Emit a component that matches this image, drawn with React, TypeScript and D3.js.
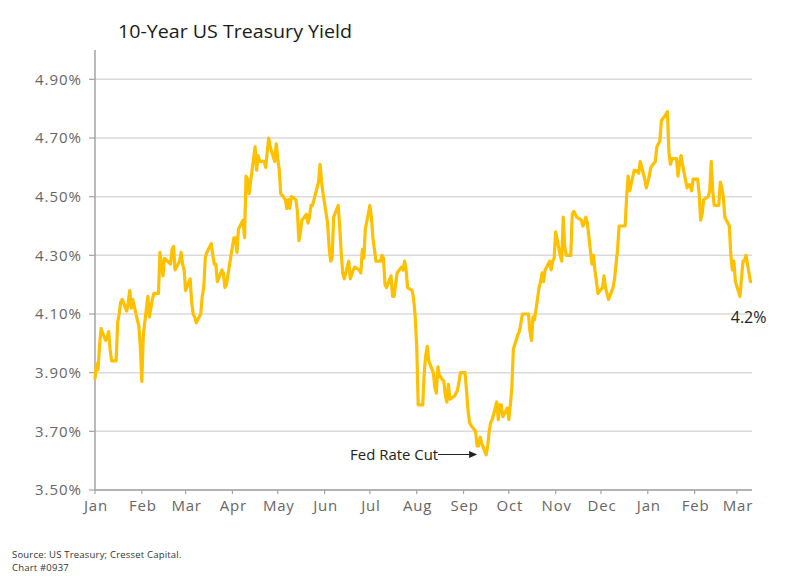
import React from "react";
import * as d3 from "d3";

// ---- Data (10-Year US Treasury yield, %) ----
const yields2024H1: [string, number][] = [
  ["2024-01-01", 3.88], ["2024-01-02", 3.93], ["2024-01-03", 3.91], ["2024-01-04", 3.99], ["2024-01-05", 4.05],
  ["2024-01-08", 4.01], ["2024-01-09", 4.02], ["2024-01-10", 4.04], ["2024-01-11", 3.98], ["2024-01-12", 3.94],
  ["2024-01-15", 3.94], ["2024-01-16", 4.07], ["2024-01-17", 4.10], ["2024-01-18", 4.14], ["2024-01-19", 4.15],
  ["2024-01-22", 4.11], ["2024-01-23", 4.14], ["2024-01-24", 4.18], ["2024-01-25", 4.12], ["2024-01-26", 4.15],
  ["2024-01-29", 4.08], ["2024-01-30", 4.06], ["2024-01-31", 3.99],
  ["2024-02-01", 3.87], ["2024-02-02", 4.03], ["2024-02-05", 4.16], ["2024-02-06", 4.09], ["2024-02-07", 4.12],
  ["2024-02-08", 4.15], ["2024-02-09", 4.17], ["2024-02-12", 4.17], ["2024-02-13", 4.31], ["2024-02-14", 4.27],
  ["2024-02-15", 4.23], ["2024-02-16", 4.29], ["2024-02-20", 4.27], ["2024-02-21", 4.32], ["2024-02-22", 4.33],
  ["2024-02-23", 4.25], ["2024-02-26", 4.28], ["2024-02-27", 4.31], ["2024-02-28", 4.27], ["2024-02-29", 4.25],
  ["2024-03-01", 4.18], ["2024-03-04", 4.22], ["2024-03-05", 4.14], ["2024-03-06", 4.10], ["2024-03-07", 4.09],
  ["2024-03-08", 4.07], ["2024-03-11", 4.10], ["2024-03-12", 4.16], ["2024-03-13", 4.19], ["2024-03-14", 4.29],
  ["2024-03-15", 4.31], ["2024-03-18", 4.34], ["2024-03-19", 4.30], ["2024-03-20", 4.27], ["2024-03-21", 4.27],
  ["2024-03-22", 4.21], ["2024-03-25", 4.25], ["2024-03-26", 4.24], ["2024-03-27", 4.19], ["2024-03-28", 4.20],
  ["2024-04-01", 4.33], ["2024-04-02", 4.36], ["2024-04-03", 4.36], ["2024-04-04", 4.31], ["2024-04-05", 4.39],
  ["2024-04-08", 4.42], ["2024-04-09", 4.36], ["2024-04-10", 4.57], ["2024-04-11", 4.56], ["2024-04-12", 4.51],
  ["2024-04-15", 4.63], ["2024-04-16", 4.67], ["2024-04-17", 4.59], ["2024-04-18", 4.64], ["2024-04-19", 4.62],
  ["2024-04-22", 4.62], ["2024-04-23", 4.60], ["2024-04-24", 4.65], ["2024-04-25", 4.70], ["2024-04-26", 4.67],
  ["2024-04-29", 4.62], ["2024-04-30", 4.68],
  ["2024-05-01", 4.63], ["2024-05-02", 4.59], ["2024-05-03", 4.51], ["2024-05-06", 4.49], ["2024-05-07", 4.46],
  ["2024-05-08", 4.49], ["2024-05-09", 4.46], ["2024-05-10", 4.50], ["2024-05-13", 4.49], ["2024-05-14", 4.45],
  ["2024-05-15", 4.35], ["2024-05-16", 4.38], ["2024-05-17", 4.42], ["2024-05-20", 4.44], ["2024-05-21", 4.41],
  ["2024-05-22", 4.43], ["2024-05-23", 4.47], ["2024-05-24", 4.47], ["2024-05-28", 4.55], ["2024-05-29", 4.61],
  ["2024-05-30", 4.55], ["2024-05-31", 4.51],
  ["2024-06-03", 4.41], ["2024-06-04", 4.33], ["2024-06-05", 4.28], ["2024-06-06", 4.29], ["2024-06-07", 4.43],
  ["2024-06-10", 4.47], ["2024-06-11", 4.40], ["2024-06-12", 4.31], ["2024-06-13", 4.24], ["2024-06-14", 4.22],
  ["2024-06-17", 4.28], ["2024-06-18", 4.22], ["2024-06-20", 4.25], ["2024-06-21", 4.26], ["2024-06-24", 4.25],
  ["2024-06-25", 4.24], ["2024-06-26", 4.32], ["2024-06-27", 4.29], ["2024-06-28", 4.39],
];

const yields2024H2: [string, number][] = [
  ["2024-07-01", 4.47], ["2024-07-02", 4.43], ["2024-07-03", 4.36], ["2024-07-05", 4.28], ["2024-07-08", 4.28],
  ["2024-07-09", 4.30], ["2024-07-10", 4.29], ["2024-07-11", 4.20], ["2024-07-12", 4.19], ["2024-07-15", 4.23],
  ["2024-07-16", 4.16], ["2024-07-17", 4.16], ["2024-07-18", 4.20], ["2024-07-19", 4.24], ["2024-07-22", 4.26],
  ["2024-07-23", 4.25], ["2024-07-24", 4.28], ["2024-07-25", 4.25], ["2024-07-26", 4.19], ["2024-07-29", 4.18],
  ["2024-07-30", 4.15], ["2024-07-31", 4.09],
  ["2024-08-01", 3.99], ["2024-08-02", 3.79], ["2024-08-05", 3.79], ["2024-08-06", 3.90], ["2024-08-07", 3.96],
  ["2024-08-08", 3.99], ["2024-08-09", 3.94], ["2024-08-12", 3.90], ["2024-08-13", 3.85], ["2024-08-14", 3.83],
  ["2024-08-15", 3.92], ["2024-08-16", 3.89], ["2024-08-19", 3.87], ["2024-08-20", 3.82], ["2024-08-21", 3.80],
  ["2024-08-22", 3.86], ["2024-08-23", 3.81], ["2024-08-26", 3.82], ["2024-08-27", 3.83], ["2024-08-28", 3.84],
  ["2024-08-29", 3.87], ["2024-08-30", 3.90], ["2024-09-02", 3.90],
  ["2024-09-03", 3.84], ["2024-09-04", 3.77], ["2024-09-05", 3.73], ["2024-09-06", 3.72], ["2024-09-09", 3.70],
  ["2024-09-10", 3.65], ["2024-09-11", 3.65], ["2024-09-12", 3.68], ["2024-09-13", 3.66], ["2024-09-16", 3.62],
  ["2024-09-17", 3.65], ["2024-09-18", 3.70], ["2024-09-19", 3.73], ["2024-09-20", 3.74], ["2024-09-23", 3.80],
  ["2024-09-24", 3.74], ["2024-09-25", 3.79], ["2024-09-26", 3.79], ["2024-09-27", 3.75], ["2024-09-30", 3.78],
  ["2024-10-01", 3.74], ["2024-10-02", 3.79], ["2024-10-03", 3.85], ["2024-10-04", 3.98], ["2024-10-07", 4.03],
  ["2024-10-08", 4.04], ["2024-10-09", 4.07], ["2024-10-10", 4.10], ["2024-10-11", 4.10], ["2024-10-14", 4.10],
  ["2024-10-15", 4.04], ["2024-10-16", 4.01], ["2024-10-17", 4.09], ["2024-10-18", 4.08], ["2024-10-21", 4.19],
  ["2024-10-22", 4.21], ["2024-10-23", 4.24], ["2024-10-24", 4.21], ["2024-10-25", 4.25], ["2024-10-28", 4.28],
  ["2024-10-29", 4.25], ["2024-10-30", 4.28], ["2024-10-31", 4.29],
  ["2024-11-01", 4.38], ["2024-11-04", 4.30], ["2024-11-05", 4.28], ["2024-11-06", 4.43], ["2024-11-07", 4.33],
  ["2024-11-08", 4.30], ["2024-11-11", 4.30], ["2024-11-12", 4.44], ["2024-11-13", 4.45], ["2024-11-14", 4.44],
  ["2024-11-15", 4.43], ["2024-11-18", 4.42], ["2024-11-19", 4.40], ["2024-11-20", 4.41], ["2024-11-21", 4.43],
  ["2024-11-22", 4.41], ["2024-11-25", 4.27], ["2024-11-26", 4.30], ["2024-11-27", 4.25], ["2024-11-29", 4.17],
  ["2024-12-02", 4.19], ["2024-12-03", 4.23], ["2024-12-04", 4.19], ["2024-12-05", 4.17], ["2024-12-06", 4.15],
  ["2024-12-09", 4.19], ["2024-12-10", 4.22], ["2024-12-11", 4.27], ["2024-12-12", 4.32], ["2024-12-13", 4.40],
  ["2024-12-16", 4.40], ["2024-12-17", 4.40], ["2024-12-18", 4.50], ["2024-12-19", 4.57], ["2024-12-20", 4.52],
  ["2024-12-23", 4.59], ["2024-12-24", 4.59], ["2024-12-26", 4.58], ["2024-12-27", 4.62], ["2024-12-30", 4.56],
  ["2024-12-31", 4.53],
];

const yields2025: [string, number][] = [
  ["2025-01-02", 4.57], ["2025-01-03", 4.60], ["2025-01-06", 4.62], ["2025-01-07", 4.67], ["2025-01-08", 4.68],
  ["2025-01-09", 4.69], ["2025-01-10", 4.76], ["2025-01-13", 4.78], ["2025-01-14", 4.79], ["2025-01-15", 4.65],
  ["2025-01-16", 4.61], ["2025-01-17", 4.63], ["2025-01-20", 4.63], ["2025-01-21", 4.57], ["2025-01-22", 4.61],
  ["2025-01-23", 4.64], ["2025-01-24", 4.61], ["2025-01-27", 4.53], ["2025-01-28", 4.54], ["2025-01-29", 4.54],
  ["2025-01-30", 4.52], ["2025-01-31", 4.56],
  ["2025-02-03", 4.56], ["2025-02-04", 4.51], ["2025-02-05", 4.42], ["2025-02-06", 4.44], ["2025-02-07", 4.49],
  ["2025-02-10", 4.50], ["2025-02-11", 4.52], ["2025-02-12", 4.62], ["2025-02-13", 4.52], ["2025-02-14", 4.47],
  ["2025-02-17", 4.47], ["2025-02-18", 4.55], ["2025-02-19", 4.53], ["2025-02-20", 4.50], ["2025-02-21", 4.43],
  ["2025-02-24", 4.40], ["2025-02-25", 4.30], ["2025-02-26", 4.25], ["2025-02-27", 4.28], ["2025-02-28", 4.21],
  ["2025-03-03", 4.16], ["2025-03-04", 4.22], ["2025-03-05", 4.28], ["2025-03-06", 4.28], ["2025-03-07", 4.30],
  ["2025-03-10", 4.21],
];

const yTickValues: number[] = [3.5, 3.7, 3.9, 4.1, 4.3, 4.5, 4.7, 4.9];
const monthTickLabels: string[] = [
  "Jan", "Feb", "Mar", "Apr", "May", "Jun", "Jul", "Aug", "Sep", "Oct", "Nov", "Dec", "Jan", "Feb", "Mar",
];
const xDomain: string[] = ["2024-01-01", "2025-03-11"];
const yDomain: number[] = [3.5, 5.0];

const titleText = "10-Year US Treasury Yield";
const sourceLines: string[] = ["Source: US Treasury; Cresset Capital.", "Chart #0937"];
const fedCut = { label: "Fed Rate Cut", date: "2024-09-10", value: 3.621 };
const lastLabel = "4.2%";

const FONT = "'Open Sans', 'DejaVu Sans', sans-serif";

export default function App() {
  const W = 804;
  const H = 584;
  const margin = { left: 95, right: 52, top: 50, bottom: 94 };
  const parse = d3.timeParse("%Y-%m-%d");

  const series = [...yields2024H1, ...yields2024H2, ...yields2025].map(([d, v]) => ({
    date: parse(d) as Date,
    value: v,
  }));

  const x = d3
    .scaleTime()
    .domain([parse(xDomain[0]) as Date, parse(xDomain[1]) as Date])
    .range([margin.left, W - margin.right]);
  const y = d3
    .scaleLinear()
    .domain(yDomain)
    .range([H - margin.bottom, margin.top]);

  const line = d3
    .line<{ date: Date; value: number }>()
    .x((d) => x(d.date))
    .y((d) => y(d.value))
    .curve(d3.curveLinear);

  const monthTicks = d3.timeMonth.range(parse(xDomain[0]) as Date, parse(xDomain[1]) as Date);
  const x0 = margin.left;
  const x1 = W - margin.right;
  const yBottom = y(yDomain[0]);

  const last = series[series.length - 1];
  const lastX = x(last.date);
  const lastY = y(last.value);

  const cutX = x(parse(fedCut.date) as Date);
  const cutY = y(fedCut.value);

  return (
    <svg
      width={W}
      height={H}
      style={{ position: "absolute", left: 0, top: 0, background: "#fff" }}
      fontFamily={FONT}
    >
      <text x={118} y={38} fontSize={18} fill="#1a1a1a" textLength={234} lengthAdjust="spacingAndGlyphs">
        {titleText}
      </text>

      {/* gridlines */}
      {yTickValues.map((t) => (
        <line key={"g" + t} x1={x0} x2={x1} y1={y(t)} y2={y(t)} stroke="#dadada" strokeWidth={1.5} />
      ))}

      {/* y axis */}
      <line x1={x0} x2={x0} y1={margin.top} y2={yBottom} stroke="#a3a3a3" strokeWidth={1.5} />
      {yTickValues.map((t) => (
        <g key={"yt" + t}>
          <line x1={x0 - 6} x2={x0} y1={y(t)} y2={y(t)} stroke="#a3a3a3" strokeWidth={1.2} />
          <text
            x={82}
            y={y(t)}
            dy="0.36em"
            textAnchor="end"
            fontSize={15}
            fill="#666"
            letterSpacing={1}
          >
            {t.toFixed(2) + "%"}
          </text>
        </g>
      ))}

      {/* x axis */}
      <line x1={x0} x2={x1} y1={yBottom} y2={yBottom} stroke="#a3a3a3" strokeWidth={1.5} />
      {monthTicks.map((d, i) => (
        <g key={"xt" + i}>
          <line x1={x(d)} x2={x(d)} y1={yBottom} y2={yBottom + 4} stroke="#a3a3a3" strokeWidth={1.2} />
          <text x={x(d) + 1} y={511} textAnchor="middle" fontSize={15} fill="#666" letterSpacing={0.8}>
            {monthTickLabels[i]}
          </text>
        </g>
      ))}

      {/* series line */}
      <path
        d={line(series) || ""}
        fill="none"
        stroke="#FFC000"
        strokeWidth={3.2}
        strokeLinejoin="round"
        strokeLinecap="round"
      />

      {/* Fed Rate Cut annotation */}
      <text
        x={cutX - 39}
        y={cutY + 5}
        textAnchor="end"
        fontSize={14}
        fill="#222"
        textLength={88}
        lengthAdjust="spacingAndGlyphs"
      >
        {fedCut.label}
      </text>
      <line x1={cutX - 39} x2={cutX - 6} y1={cutY} y2={cutY} stroke="#222" strokeWidth={1} />
      <path d={`M${cutX},${cutY} L${cutX - 8},${cutY - 3.5} L${cutX - 8},${cutY + 3.5} Z`} fill="#222" />

      {/* last value label */}
      <text x={lastX + 16} y={lastY + 41} textAnchor="end" fontSize={16} fill="#222">
        {lastLabel}
      </text>

      {/* source */}
      {sourceLines.map((s, i) => (
        <text key={"s" + i} x={12} y={558 + i * 13} fontSize={9.5} fill="#333" letterSpacing={0.2}>
          {s}
        </text>
      ))}
    </svg>
  );
}
